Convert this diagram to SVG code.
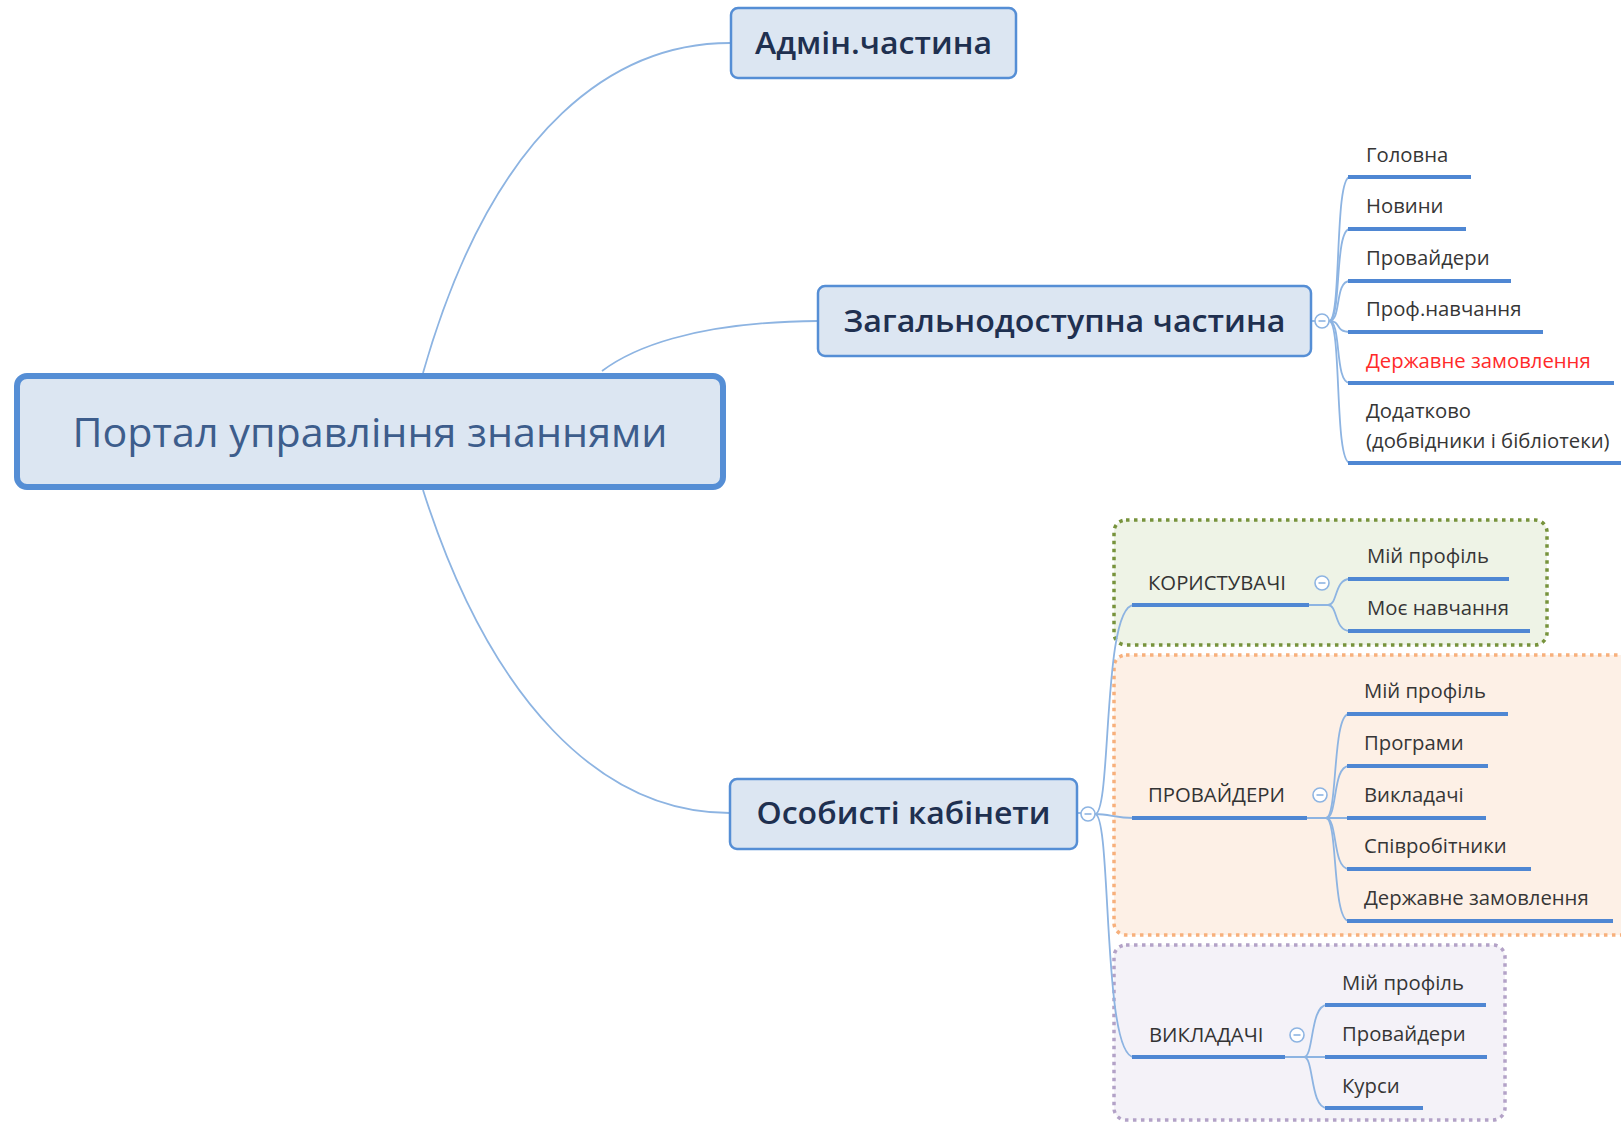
<svg xmlns="http://www.w3.org/2000/svg" width="1621" height="1122" viewBox="0 0 1621 1122">
<style>
.bg{fill:#ffffff}
.box{fill:#dce6f2;stroke:#558ed5;stroke-width:2.5}
.root{fill:#dce6f2;stroke:#558ed5;stroke-width:6}
.con{fill:none;stroke:#8db4e2;stroke-width:1.8}
.ul{stroke:#4f87d3;stroke-width:4;stroke-linecap:butt}
.t-root{font-family:"Open Sans","Noto Sans",sans-serif;font-size:41px;font-weight:500;fill:#3d5d8c;text-anchor:middle}
.t-main{font-family:"Open Sans","Noto Sans",sans-serif;font-size:31px;font-weight:600;fill:#1f3050;text-anchor:middle}
.t-leaf{font-family:"Open Sans","Noto Sans",sans-serif;font-size:20.3px;fill:#363636}
.t-red{fill:#ff2a2a}
.t-grp{font-family:"Open Sans","Noto Sans",sans-serif;font-size:20.3px;fill:#333333}
.tog{fill:#ffffff;stroke:#8db4e2;stroke-width:1.6}
.tog-m{stroke:#8db4e2;stroke-width:1.6}
.g-green{fill:#eef3e6;stroke:#77933c;stroke-width:3.5;stroke-dasharray:3.5 4.5}
.g-orange{fill:#fdf0e6;stroke:#f7b07c;stroke-width:3.5;stroke-dasharray:3.5 4.5}
.g-purple{fill:#f4f2f8;stroke:#b3a2c7;stroke-width:3.5;stroke-dasharray:3.5 4.5}
</style>
<rect class="bg" x="0" y="0" width="1621" height="1122"/>

<!-- group backgrounds -->
<g id="group-korystuvachi-bg"><rect class="g-green" x="1114" y="520" width="433" height="125" rx="12"/></g>
<g id="group-provaidery-bg"><rect class="g-orange" x="1114" y="655" width="530" height="280" rx="12"/></g>
<g id="group-vykladachi-bg"><rect class="g-purple" x="1114" y="945" width="391" height="175" rx="12"/></g>

<!-- connectors -->
<g id="connectors">
  <path class="con" d="M423,373 C495,120 620,43 730,43"/>
  <path class="con" d="M602,371 C630,350 690,322 818,321"/>
  <path class="con" d="M423,490 C490,700 600,813 730,813"/>

  <!-- general part branches -->
  <path class="con" d="M1312,321 L1315,321"/>
  <path class="con" d="M1329,321 C1342,321 1334,177 1350,177"/>
  <path class="con" d="M1329,321 C1342,321 1334,229 1350,229"/>
  <path class="con" d="M1329,321 C1342,321 1334,281 1350,281"/>
  <path class="con" d="M1329,321 C1342,321 1334,332 1350,332"/>
  <path class="con" d="M1329,321 C1342,321 1334,383 1350,383"/>
  <path class="con" d="M1329,321 C1342,321 1334,463 1350,463"/>

  <!-- personal cabinets branches -->
  <path class="con" d="M1077,813 L1081,813"/>
  <path class="con" d="M1095,814 C1112,814 1102,605 1134,605"/>
  <path class="con" d="M1095,814 C1110,814 1115,818 1134,818"/>
  <path class="con" d="M1095,814 C1112,814 1102,1057 1134,1057"/>

  <!-- users branches -->
  <path class="con" d="M1309,605 L1328,605 C1338,605 1334,579 1350,579"/>
  <path class="con" d="M1309,605 L1328,605 C1338,605 1334,631 1350,631"/>

  <!-- providers branches -->
  <path class="con" d="M1307,818 L1326,818 C1338,818 1332,714 1349,714"/>
  <path class="con" d="M1307,818 L1326,818 C1338,818 1332,766 1349,766"/>
  <path class="con" d="M1307,818 L1349,818"/>
  <path class="con" d="M1307,818 L1326,818 C1338,818 1332,869 1349,869"/>
  <path class="con" d="M1307,818 L1326,818 C1338,818 1332,921 1349,921"/>

  <!-- teachers branches -->
  <path class="con" d="M1285,1057 L1304,1057 C1314,1057 1310,1005 1327,1005"/>
  <path class="con" d="M1285,1057 L1327,1057"/>
  <path class="con" d="M1285,1057 L1304,1057 C1314,1057 1310,1108 1327,1108"/>
</g>

<!-- root -->
<g id="node-root">
  <rect class="root" x="17" y="376" width="706" height="111" rx="10"/>
  <text class="t-root" x="370" y="447" textLength="595" lengthAdjust="spacingAndGlyphs">Портал управління знаннями</text>
</g>

<g id="node-admin">
  <rect class="box" x="731" y="8" width="285" height="70" rx="7"/>
  <text class="t-main" x="873.5" y="54" textLength="237" lengthAdjust="spacingAndGlyphs">Адмін.частина</text>
</g>

<g id="node-general">
  <rect class="box" x="818" y="286" width="493" height="70" rx="7"/>
  <text class="t-main" x="1064.5" y="332" textLength="442" lengthAdjust="spacingAndGlyphs">Загальнодоступна частина</text>
  <circle class="tog" cx="1322" cy="321" r="7"/>
  <line class="tog-m" x1="1318.5" y1="321" x2="1325.5" y2="321"/>
</g>

<g id="node-personal">
  <rect class="box" x="730" y="779" width="347" height="70" rx="7"/>
  <text class="t-main" x="903.5" y="824" textLength="294" lengthAdjust="spacingAndGlyphs">Особисті кабінети</text>
  <circle class="tog" cx="1088" cy="814" r="7"/>
  <line class="tog-m" x1="1084.5" y1="814" x2="1091.5" y2="814"/>
</g>

<!-- general part leaves -->
<g id="leaf-golovna"><text class="t-leaf" x="1366" y="162">Головна</text><line class="ul" x1="1348" y1="177" x2="1471" y2="177"/></g>
<g id="leaf-novyny"><text class="t-leaf" x="1366" y="213">Новини</text><line class="ul" x1="1348" y1="229" x2="1466" y2="229"/></g>
<g id="leaf-provaidery"><text class="t-leaf" x="1366" y="265">Провайдери</text><line class="ul" x1="1348" y1="281" x2="1511" y2="281"/></g>
<g id="leaf-prof"><text class="t-leaf" x="1366" y="316">Проф.навчання</text><line class="ul" x1="1348" y1="332" x2="1543" y2="332"/></g>
<g id="leaf-derzh"><text class="t-leaf t-red" x="1366" y="368">Державне замовлення</text><line class="ul" x1="1348" y1="383" x2="1614" y2="383"/></g>
<g id="leaf-dodatkovo"><text class="t-leaf" x="1366" y="418">Додатково</text><text class="t-leaf" x="1366" y="448">(добвідники і бібліотеки)</text><line class="ul" x1="1348" y1="463" x2="1621" y2="463"/></g>

<!-- users group -->
<g id="node-korystuvachi">
  <text class="t-grp" x="1148" y="590">КОРИСТУВАЧІ</text>
  <line class="ul" x1="1132" y1="605" x2="1309" y2="605"/>
  <circle class="tog" cx="1322" cy="583" r="7"/>
  <line class="tog-m" x1="1318.5" y1="583" x2="1325.5" y2="583"/>
</g>
<g id="leaf-k-profile"><text class="t-leaf" x="1367" y="563">Мій профіль</text><line class="ul" x1="1348" y1="579" x2="1509" y2="579"/></g>
<g id="leaf-k-study"><text class="t-leaf" x="1367" y="615">Моє навчання</text><line class="ul" x1="1348" y1="631" x2="1530" y2="631"/></g>

<!-- providers group -->
<g id="node-provaidery-grp">
  <text class="t-grp" x="1148" y="802">ПРОВАЙДЕРИ</text>
  <line class="ul" x1="1132" y1="818" x2="1307" y2="818"/>
  <circle class="tog" cx="1320" cy="795" r="7"/>
  <line class="tog-m" x1="1316.5" y1="795" x2="1323.5" y2="795"/>
</g>
<g id="leaf-p-profile"><text class="t-leaf" x="1364" y="698">Мій профіль</text><line class="ul" x1="1347" y1="714" x2="1508" y2="714"/></g>
<g id="leaf-p-programs"><text class="t-leaf" x="1364" y="750">Програми</text><line class="ul" x1="1347" y1="766" x2="1488" y2="766"/></g>
<g id="leaf-p-teachers"><text class="t-leaf" x="1364" y="802">Викладачі</text><line class="ul" x1="1347" y1="818" x2="1486" y2="818"/></g>
<g id="leaf-p-staff"><text class="t-leaf" x="1364" y="853">Співробітники</text><line class="ul" x1="1347" y1="869" x2="1531" y2="869"/></g>
<g id="leaf-p-derzh"><text class="t-leaf" x="1364" y="905">Державне замовлення</text><line class="ul" x1="1347" y1="921" x2="1613" y2="921"/></g>

<!-- teachers group -->
<g id="node-vykladachi-grp">
  <text class="t-grp" x="1149" y="1042">ВИКЛАДАЧІ</text>
  <line class="ul" x1="1132" y1="1057" x2="1285" y2="1057"/>
  <circle class="tog" cx="1297" cy="1035" r="7"/>
  <line class="tog-m" x1="1293.5" y1="1035" x2="1300.5" y2="1035"/>
</g>
<g id="leaf-v-profile"><text class="t-leaf" x="1342" y="990">Мій профіль</text><line class="ul" x1="1325" y1="1005" x2="1486" y2="1005"/></g>
<g id="leaf-v-providers"><text class="t-leaf" x="1342" y="1041">Провайдери</text><line class="ul" x1="1325" y1="1057" x2="1487" y2="1057"/></g>
<g id="leaf-v-courses"><text class="t-leaf" x="1342" y="1093">Курси</text><line class="ul" x1="1325" y1="1108" x2="1423" y2="1108"/></g>
</svg>
